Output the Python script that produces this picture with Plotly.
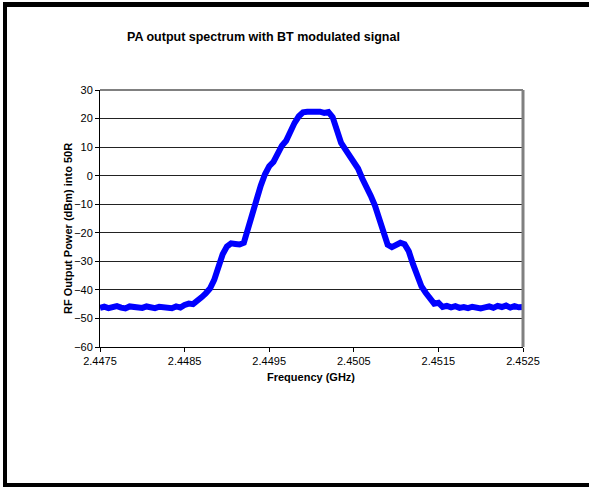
import plotly.graph_objects as go

freq_ghz = [
    2.4475, 2.44755, 2.4476, 2.44765, 2.4477, 2.44775, 2.4478, 2.44785, 2.4479, 2.44795,
    2.4480, 2.44805, 2.4481, 2.44815, 2.4482, 2.44825, 2.4483, 2.44835, 2.4484, 2.44845,
    2.4485, 2.44855, 2.4486, 2.44865, 2.4487, 2.44875, 2.4488, 2.44885, 2.4489, 2.44895,
    2.4490, 2.44905, 2.4491, 2.44915, 2.4492, 2.44925, 2.4493, 2.44935, 2.4494, 2.44945,
    2.4495, 2.44955, 2.4496, 2.44965, 2.4497, 2.44975, 2.4498, 2.44985, 2.4499, 2.44995,
    2.4500, 2.45005, 2.4501, 2.45015, 2.4502, 2.45025, 2.4503, 2.45035, 2.4504, 2.45045,
    2.4505, 2.45055, 2.4506, 2.45065, 2.4507, 2.45075, 2.4508, 2.45085, 2.4509, 2.45095,
    2.4510, 2.45105, 2.4511, 2.45115, 2.4512, 2.45125, 2.4513, 2.45135, 2.4514, 2.45145,
    2.4515, 2.45155, 2.4516, 2.45165, 2.4517, 2.45175, 2.4518, 2.45185, 2.4519, 2.45195,
    2.4520, 2.45205, 2.4521, 2.45215, 2.4522, 2.45225, 2.4523, 2.45235, 2.4524, 2.45245,
    2.4525,
]
power_dbm = [
    -46.3, -45.9, -46.4, -46.0, -45.7, -46.2, -46.5, -45.8, -46.1, -45.9,
    -46.3, -45.8, -46.2, -46.4, -45.9, -46.1, -46.0, -46.4, -45.8, -46.2,
    -45.3, -44.8, -45.0, -44.0, -42.6, -41.2, -39.5, -36.5, -32.0, -27.5,
    -24.8, -23.7, -23.9, -24.1, -23.5, -18.5, -12.5, -7.5, -3.5, 0.5,
    3.3, 4.8, 8.0, 10.5, 12.2, 15.5, 18.5, 20.8, 22.2, 22.4,
    22.5, 22.6, 22.4, 22.0, 22.3, 20.5, 15.5, 11.5, 9.2, 7.2,
    5.0, 2.5, -1.0, -3.5, -7.0, -10.5, -15.5, -20.5, -24.2, -25.0,
    -24.0, -23.5, -24.0, -26.5, -31.0, -35.5, -38.8, -41.0, -43.0, -44.8,
    -44.5, -46.0, -45.6, -46.1, -45.7, -46.3, -46.0, -46.4, -45.9, -46.2,
    -46.5, -46.1, -45.8, -46.3, -45.6, -46.0, -45.5, -46.2, -45.7, -46.1,
    -46.0,
]

x_ticks = [2.4475, 2.4485, 2.4495, 2.4505, 2.4515, 2.4525]
x_tick_labels = ["2.4475", "2.4485", "2.4495", "2.4505", "2.4515", "2.4525"]
y_ticks = [-60, -50, -40, -30, -20, -10, 0, 10, 20, 30]

title_text = "PA output spectrum with BT modulated signal"
x_title = "Frequency (GHz)"
y_title = "RF Output Power (dBm) into 50R"

W, H = 589, 487
L, R, T, B = 100, 66, 90, 140
pw, ph = W - L - R, H - T - B


def px(xp):
    return (xp - L) / pw


def py(yp):
    return (H - B - yp) / ph


FONT = "Liberation Sans, Arial, sans-serif"

fig = go.Figure()
fig.add_trace(go.Scatter(
    x=freq_ghz, y=power_dbm, mode="lines",
    line=dict(color="#0000FF", width=6),
    showlegend=False, hoverinfo="skip",
))

shapes = [
    # plot area top and right border (gray)
    dict(type="line", xref="paper", yref="paper", x0=0, x1=1, y0=1, y1=1,
         line=dict(color="#808080", width=2)),
    dict(type="line", xref="paper", yref="paper", x0=1, x1=1, y0=0, y1=1,
         line=dict(color="#808080", width=3)),
    # outer frame (thick black on left, top, bottom), drawn as lines
    dict(type="line", xref="paper", yref="paper", x0=px(5), x1=px(5), y0=py(487), y1=py(2),
         line=dict(color="black", width=4)),
    dict(type="line", xref="paper", yref="paper", x0=px(3), x1=px(589), y0=py(4.5), y1=py(4.5),
         line=dict(color="black", width=5)),
    dict(type="line", xref="paper", yref="paper", x0=px(3), x1=px(589), y0=py(485), y1=py(485),
         line=dict(color="black", width=4)),
]

annotations = [
    dict(text="<b>" + title_text + "</b>", xref="paper", yref="paper",
         x=px(263), y=py(37), xanchor="center", yanchor="middle", showarrow=False,
         font=dict(family=FONT, size=12.5, color="black")),
    dict(text="<b>" + x_title + "</b>", xref="paper", yref="paper",
         x=px(311), y=py(377), xanchor="center", yanchor="middle", showarrow=False,
         font=dict(family=FONT, size=11, color="black")),
    dict(text="<b>" + y_title + "</b>", xref="paper", yref="paper",
         x=px(68), y=py(229), xanchor="center", yanchor="middle", showarrow=False,
         textangle=-90, font=dict(family=FONT, size=11, color="black")),
]

fig.update_layout(
    width=W, height=H,
    margin=dict(l=L, r=R, t=T, b=B, pad=0),
    paper_bgcolor="white", plot_bgcolor="white",
    font=dict(family=FONT, size=11, color="black"),
    shapes=shapes, annotations=annotations,
    xaxis=dict(
        range=[2.4475, 2.4525], tickvals=x_ticks, ticktext=x_tick_labels,
        showgrid=False, zeroline=False, showline=True, linecolor="black", linewidth=1,
        ticks="outside", ticklen=4, tickcolor="black",
        tickfont=dict(family=FONT, size=11, color="black"),
    ),
    yaxis=dict(
        range=[-60, 30], tickvals=y_ticks,
        showgrid=True, gridcolor="#222222", gridwidth=1,
        zeroline=False, showline=True, linecolor="black", linewidth=1,
        ticks="outside", ticklen=4, tickcolor="black",
        tickfont=dict(family=FONT, size=11, color="black"),
    ),
)

fig.write_html(
    "out.html",
    config={"displayModeBar": False, "staticPlot": True},
    post_script=(
        "document.documentElement.style.margin='0';"
        "document.documentElement.style.overflow='hidden';"
        "document.documentElement.style.background='white';"
        "document.body.style.margin='0';"
        "document.body.style.overflow='hidden';"
        "document.body.style.background='white';"
    ),
)
